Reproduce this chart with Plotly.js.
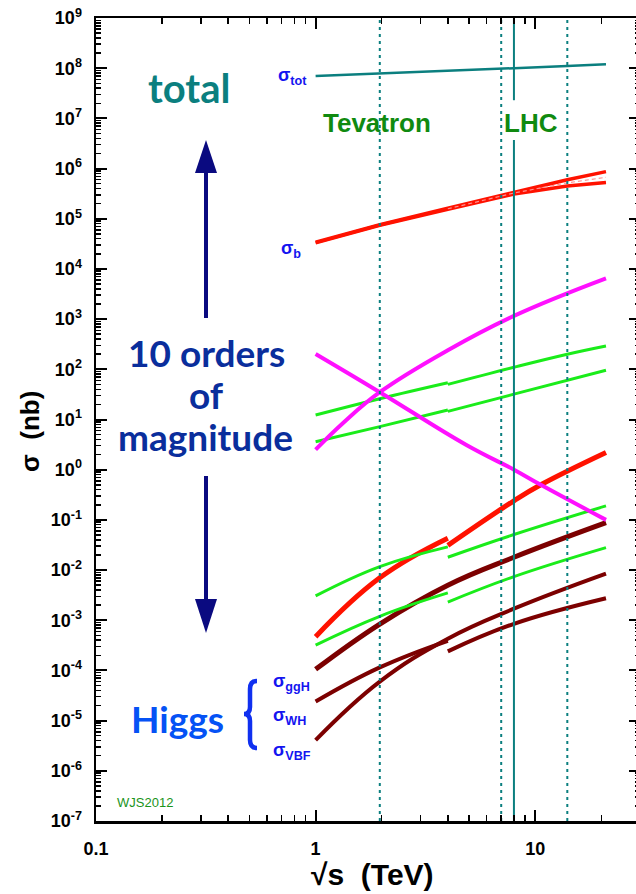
<!DOCTYPE html>
<html>
<head>
<meta charset="utf-8">
<script src="https://cdn.plot.ly/plotly-3.0.1.min.js"></script>
<style>
  html, body { margin: 0; padding: 0; overflow: hidden; background: #fff; }
  #chart { width: 650px; height: 894px; }
</style>
</head>
<body>
<div id="chart"></div>
<script>
// ---- cross sections vs collider energy (sqrt(s) in TeV, sigma in nb) ----
// total cross section
const totE = [1, 1.96, 4, 8, 14, 21];
const totSig = [7.0e7, 7.8e7, 8.8e7, 1.0e8, 1.1e8, 1.2e8];

// b-quark production: upper / lower edges of the band, central value
const bE = [1, 1.96, 4, 8, 14, 21];
const bSigHi = [3.4e4, 7.6e4, 1.62e5, 3.4e5, 6.0e5, 8.7e5];
const bSigLo = [3.3e4, 7.4e4, 1.55e5, 3.1e5, 4.5e5, 5.3e5];
const bMidE = [4, 8, 14, 21];
const bSigMid = [1.58e5, 3.25e5, 5.2e5, 6.7e5];

// jets (magenta): rising and falling curves
const jetUpE = [1, 1.33, 1.96, 4, 8, 21];
const jetUpSig = [2.5, 8.4, 35, 240, 1160, 6500];
const jetDnE = [1, 1.96, 4.86, 8, 10.6, 21];
const jetDnSig = [202, 35, 3.1, 1.0, 0.5, 0.1];

// electroweak (green): p-pbar below 4 TeV, pp above
const ppbarE = [1, 1.96, 4];
const ppE = [4, 8, 21];
const wPpbar = [12.3, 26, 54];
const wPpE = [4, 8, 14, 21];
const wPp = [50, 110, 200, 292];
const zPpbar = [3.6, 7.2, 15.5];
const zPp = [14.5, 32, 96];
const ew3Ppbar = [3.05e-3, 0.0117, 0.029];
const ew3Pp = [0.018, 0.051, 0.19];
const ew4Ppbar = [3.2e-4, 1.2e-3, 3.5e-3];
const ew4Pp = [2.3e-3, 7.4e-3, 0.028];

// top (red)
const topPpbarE = [1, 1.96, 4];
const topPpbar = [4.7e-4, 7.0e-3, 0.043];
const topPpE = [4, 8, 10.6, 21];
const topPp = [0.031, 0.24, 0.5, 2.2];

// Higgs (dark red)
const ggHE = [1, 1.96, 4, 8, 21];
const ggHSig = [1.05e-4, 8.4e-4, 5.0e-3, 0.018, 0.088];
const whPpbar = [2.4e-5, 1.15e-4, 3.9e-4];
const whPp = [2.4e-4, 8.5e-4, 2.75e-3];
const vbfE = [1, 1.96, 4, 8, 21];
const vbfSig = [4.1e-6, 6.0e-5, 4.3e-4, 1.7e-3, 8.5e-3];

// collider energies (dotted) and the 8 TeV LHC run (solid)
const colliderE = [1.96, 7, 14];
const lhcRunE = 8;
const lhcSolidSpans = [[1e-7, 3.7e6], [2.3e7, 1e9]];

// axis ticks
const xTickVals = [0.1, 1, 10];
const xTickText = ['0.1', '1', '10'];
const yExps = [-7, -6, -5, -4, -3, -2, -1, 0, 1, 2, 3, 4, 5, 6, 7, 8, 9];

// ---- colours ----
const C = {
  red: '#ff1200', green: '#1aec1a', magenta: '#ff10ff', maroon: '#7c0000',
  teal: '#0b7f7f', blueLbl: '#1414f0', navy: '#0a0a80', orders: '#0a2e9c',
  higgs: '#0552f5', ewLbl: '#108a10'
};

function line(x, y, color, width, extra) {
  return Object.assign({
    type: 'scatter', mode: 'lines', x: x, y: y, hoverinfo: 'skip',
    line: Object.assign({ color: color, width: width, shape: 'spline', smoothing: 1.2 }, extra || {})
  });
}
const straight = { shape: 'linear' };

const traces = [
  line(totE, totSig, C.teal, 2.5, straight),
  line(bE, bSigLo, C.red, 3.5, straight),
  line(bE, bSigHi, C.red, 3.5, straight),
  line(bMidE, bSigMid, '#ff9090', 1.2, { dash: '4px,3px', shape: 'linear' }),
  line(topPpbarE, topPpbar, C.red, 5),
  line(topPpE, topPp, C.red, 5),
  line(ggHE, ggHSig, C.maroon, 5),
  line(ppbarE, whPpbar, C.maroon, 4),
  line(ppE, whPp, C.maroon, 4),
  line(vbfE, vbfSig, C.maroon, 4),
  line(ppbarE, wPpbar, C.green, 3),
  line(wPpE, wPp, C.green, 3),
  line(ppbarE, zPpbar, C.green, 3),
  line(ppE, zPp, C.green, 3),
  line(ppbarE, ew3Ppbar, C.green, 3),
  line(ppE, ew3Pp, C.green, 3),
  line(ppbarE, ew4Ppbar, C.green, 3),
  line(ppE, ew4Pp, C.green, 3),
  line(jetUpE, jetUpSig, C.magenta, 4),
  line(jetDnE, jetDnSig, C.magenta, 4)
];

colliderE.forEach(function (e) {
  traces.push(line([e, e], [1e-7, 1e9], C.teal, 2, { dash: '3px,4px', shape: 'linear' }));
});
lhcSolidSpans.forEach(function (s) {
  traces.push(line([lhcRunE, lhcRunE], s, C.teal, 2, { shape: 'linear' }));
});

// minor tick positions (2..9 in each decade)
function minorTicks(lo, hi) {
  const v = [];
  for (let p = lo; p < hi; p++) for (let m = 2; m <= 9; m++) v.push(m * Math.pow(10, p));
  return v;
}

// pixel-to-paper helpers for annotations and drawn glyphs
const L = 96, R = 640, T = 18, B = 821;
const px = v => (v - L) / (R - L);
const py = v => (B - v) / (B - T);

const tickFont = { family: 'Liberation Sans, Arial, sans-serif', size: 18, color: '#000', weight: 'bold' };
const axisCommon = {
  type: 'log', showgrid: false, zeroline: false, showline: true, linecolor: '#000', linewidth: 2.5,
  mirror: 'allticks', ticks: 'inside', ticklen: 11, tickwidth: 2, tickcolor: '#000',
  tickmode: 'array', tickfont: tickFont
};

function ann(text, x, y, font, opts) {
  return Object.assign({
    xref: 'paper', yref: 'paper', x: px(x), y: py(y), text: text, showarrow: false,
    xanchor: 'center', yanchor: 'middle', font: font
  }, opts || {});
}
const lato = (size, color) => ({ family: 'Lato, "Open Sans", sans-serif', size: size, color: color, weight: 'bold' });
const helv = (size, color, w) => ({ family: 'Liberation Sans, Arial, sans-serif', size: size, color: color, weight: w || 'bold' });

const annotations = [
  ann('total', 189, 88, lato(40, C.teal)),
  ann('10 orders', 206, 352, lato(37, C.orders)),
  ann('of', 206, 394, lato(37, C.orders)),
  ann('magnitude', 205, 436, lato(37, C.orders)),
  ann('Higgs', 177, 718, lato(37, C.higgs)),
  ann('Tevatron', 377, 123, helv(26, C.ewLbl)),
  ann('LHC', 531, 123, helv(26, C.ewLbl)),
  ann('WJS2012', 145, 802, helv(13, '#1a941a', 'normal')),
  ann('σ<sub>tot</sub>', 309, 77, helv(18, C.blueLbl), { xanchor: 'right' }),
  ann('σ<sub>b</sub>', 303, 249, helv(18, C.blueLbl), { xanchor: 'right' }),
  ann('σ<sub>ggH</sub>', 271, 682, helv(18, C.blueLbl), { xanchor: 'left' }),
  ann('σ<sub>WH</sub>', 271, 716, helv(18, C.blueLbl), { xanchor: 'left' }),
  ann('σ<sub>VBF</sub>', 271, 751, helv(18, C.blueLbl), { xanchor: 'left' }),
  ann('√s  (TeV)', 372, 874, helv(30, '#000')),
  ann('σ  (nb)', 30, 432, helv(26, '#000'), { textangle: -90 })
];

// arrows and brace drawn as paper-space paths
const shapes = [
  { type: 'line', xref: 'paper', yref: 'paper', x0: px(206), x1: px(206), y0: py(318), y1: py(170),
    line: { color: C.navy, width: 4 } },
  { type: 'path', xref: 'paper', yref: 'paper', path: 'M' + px(195) + ',' + py(173) + ' L' + px(217) + ',' + py(173) + ' L' + px(206) + ',' + py(140) + ' Z',
    fillcolor: C.navy, line: { color: C.navy, width: 0 } },
  { type: 'line', xref: 'paper', yref: 'paper', x0: px(206), x1: px(206), y0: py(476), y1: py(602),
    line: { color: C.navy, width: 4 } },
  { type: 'path', xref: 'paper', yref: 'paper', path: 'M' + px(195) + ',' + py(599) + ' L' + px(217) + ',' + py(599) + ' L' + px(206) + ',' + py(633) + ' Z',
    fillcolor: C.navy, line: { color: C.navy, width: 0 } },
  { type: 'path', xref: 'paper', yref: 'paper',
    path: 'M' + px(257) + ',' + py(681) +
      ' Q' + px(250) + ',' + py(681) + ' ' + px(250) + ',' + py(689) +
      ' L' + px(250) + ',' + py(707) +
      ' Q' + px(250) + ',' + py(714) + ' ' + px(244) + ',' + py(714) +
      ' Q' + px(250) + ',' + py(714) + ' ' + px(250) + ',' + py(721) +
      ' L' + px(250) + ',' + py(740) +
      ' Q' + px(250) + ',' + py(748) + ' ' + px(257) + ',' + py(748),
    line: { color: '#1030f0', width: 4.5 } }
];

const layout = {
  width: 650, height: 894,
  margin: { l: L, r: 650 - R, t: T, b: 894 - B },
  paper_bgcolor: '#fff', plot_bgcolor: '#fff', showlegend: false,
  xaxis: Object.assign({}, axisCommon, {
    range: [-1, Math.log10(30)], tickvals: xTickVals, ticktext: xTickText, ticklabelstandoff: 10,
    minor: { tickmode: 'array', tickvals: minorTicks(-1, 2).filter(v => v < 30), ticks: 'inside', ticklen: 6, tickwidth: 1.5, tickcolor: '#000', showgrid: false }
  }),
  yaxis: Object.assign({}, axisCommon, {
    range: [-7, 9], tickvals: yExps.map(p => Math.pow(10, p)),
    ticktext: yExps.map(p => '10<sup>' + (p < 0 ? '-' + (-p) : p) + '</sup>'), ticklabelstandoff: 8,
    minor: { tickmode: 'array', tickvals: minorTicks(-7, 9), ticks: 'inside', ticklen: 5, tickwidth: 1.5, tickcolor: '#000', showgrid: false }
  }),
  annotations: annotations,
  shapes: shapes
};

Plotly.newPlot('chart', traces, layout, { staticPlot: true, displayModeBar: false });
</script>
</body>
</html>
